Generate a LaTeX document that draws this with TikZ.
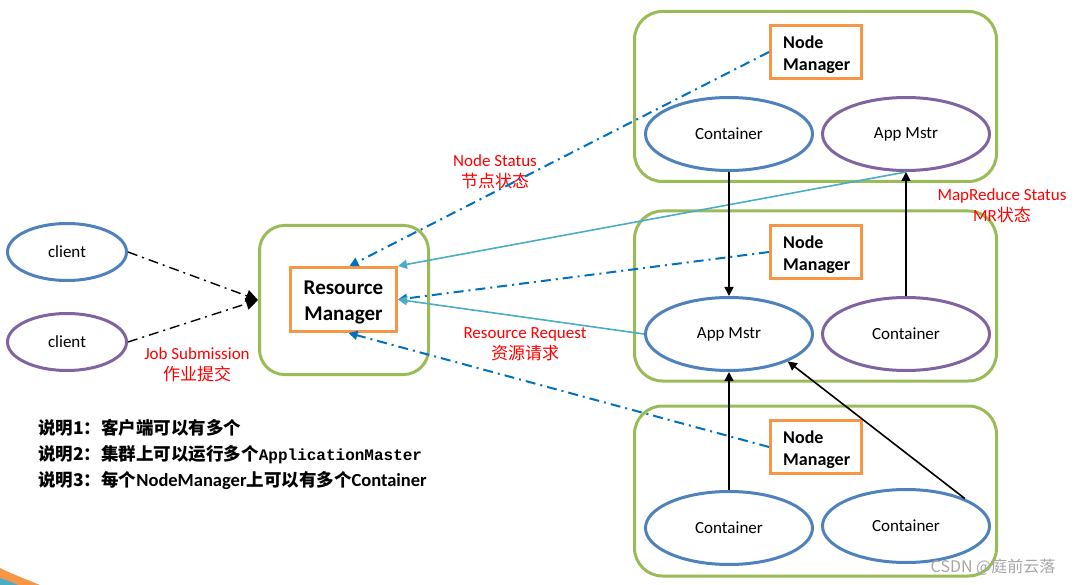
\documentclass[tikz,border=0pt]{standalone}
\usepackage{fontspec}
\setmainfont{Carlito}
\newfontfamily\cjk{Noto Sans CJK SC}
\newfontfamily\monob{Liberation Mono}
\usetikzlibrary{shapes.geometric,arrows.meta}
\definecolor{eblue}{HTML}{4F81BD}
\definecolor{epurple}{HTML}{8064A2}
\definecolor{egreen}{HTML}{9BBB59}
\definecolor{eorange}{HTML}{F79646}
\definecolor{dblue}{HTML}{0070C0}
\definecolor{tealc}{HTML}{4BACC6}
\begin{document}
\begin{tikzpicture}[x=1pt,y=-1pt,
  ell/.style={ellipse, draw, line width=3pt, minimum width=167pt, minimum height=73pt, inner sep=0pt, font=\fontsize{17}{20}\selectfont},
  cli/.style={ellipse, draw, line width=3pt, minimum width=119pt, minimum height=57pt, inner sep=0pt, font=\fontsize{17}{20}\selectfont},
  gbox/.style={draw=egreen, line width=3pt, rounded corners=28pt, minimum width=362pt, minimum height=170pt, inner sep=0pt},
  nmbox/.style={draw=eorange, line width=3pt, minimum width=91pt, minimum height=53pt, inner sep=0pt},
  nmtxt/.style={anchor=west, align=left, inner sep=0pt, font=\fontsize{18}{22}\selectfont\bfseries},
  lbl/.style={text=red, align=center, font=\fontsize{17}{21}\selectfont},
  dd/.style={draw=dblue, line width=2pt, dash pattern=on 10pt off 5pt on 2pt off 5pt, -{Triangle[length=9pt,width=9pt]}},
  tl/.style={draw=tealc, line width=1.6pt, -{Triangle[length=9pt,width=9pt]}},
  bl/.style={draw=black, line width=1.6pt, -{Triangle[length=9pt,width=9pt]}},
  jd/.style={draw=black, line width=1.4pt, dash pattern=on 10pt off 5pt on 2pt off 5pt, -{Triangle[length=12pt,width=12pt]}},
  note/.style={anchor=west, inner sep=0pt, font=\fontsize{17.5}{19}\selectfont}
]
\useasboundingbox (0,0) rectangle (1076,585);

% bottom-left decoration
\fill[eorange] (0,568) .. controls (12,574) and (28,580) .. (40,585) -- (0,585) -- cycle;
\fill[tealc] (0,578) .. controls (6,580) and (12,582) .. (18,585) -- (0,585) -- cycle;

% clients
\node[cli, draw=eblue] (c1) at (67,252) {client};
\node[cli, draw=epurple] (c2) at (67,342) {client};

% Resource manager
\node[gbox, minimum width=169pt, minimum height=149pt, rounded corners=25pt] (rmg) at (344,300) {};
\node[draw=eorange, line width=3pt, minimum width=106pt, minimum height=64pt, inner sep=0pt] (rm) at (343.5,299.5) {};
\node[align=center, inner sep=0pt, font=\fontsize{21}{26}\selectfont\bfseries] (rmt) at ([yshift=-3pt]rm.center) {Resource\\Manager};

% node groups
\node[gbox] (g1) at (815.5,96.5) {};
\node[gbox] (g2) at (815.5,296) {};
\node[gbox] (g3) at (815.5,491) {};

\node[nmbox] (nm1) at (816,52) {};
\node[nmbox] (nm2) at (816,252) {};
\node[nmbox] (nm3) at (816,447) {};
\node[nmtxt] (nm1t) at ([xshift=14pt,yshift=-3pt]nm1.west) {Node\\Manager};
\node[nmtxt] (nm2t) at ([xshift=14pt,yshift=-3pt]nm2.west) {Node\\Manager};
\node[nmtxt] (nm3t) at ([xshift=14pt,yshift=-3pt]nm3.west) {Node\\Manager};

\node[ell, draw=eblue] (ct1) at (729,134) {Container};
\node[ell, draw=epurple] (am1) at (906,134) {App Mstr};
\node[ell, draw=eblue] (am2) at (729,334) {App Mstr};
\node[ell, draw=epurple] (ct2) at (906,334) {Container};
\node[ell, draw=eblue] (ct3) at (729,528) {Container};
\node[ell, draw=eblue] (ct4) at (906,526) {Container};

% labels
\node[lbl] (ljs) at (197,365) {Job Submission\\{\cjk 作业提交}};
\node[lbl] (lns) at (495,172) {Node Status\\{\cjk 节点状态}};
\node[lbl] (lrr) at (525,344) {Resource Request\\{\cjk 资源请求}};
\node[lbl] (lmr) at (1002,206) {MapReduce Status\\MR{\cjk 状态}};

% connectors
\draw[jd] (c1.east) -- (rmg.west);
\draw[jd] (c2.east) -- (rmg.west);

\draw[dd] (nm1.west) -- ([xshift=6pt]rm.north);
\draw[dd] (nm2.west) -- (rm.east);
\draw[dd] (nm3.west) -- ([xshift=5pt]rm.south);

\draw[tl] (am1.south) -- (rm.north east);
\draw[tl] (am2.west) -- (rm.east);

\draw[bl] (ct1.south) -- (am2.north);
\draw[bl] (ct2.north) -- (am1.south);
\draw[bl] (ct3.north) -- (am2.south);
\draw[bl] (ct4.25) -- (am2.-25);

% notes
\node[note] (n1) at (38,428) {\cjk\bfseries 说明1：客户端可以有多个};
\node[note] (n2) at (38,455) {{\cjk\bfseries 说明2：集群上可以运行多个}{\monob\bfseries\fontsize{16}{18}\selectfont ApplicationMaster}};
\node[note] (n3) at (38,481) {{\cjk\bfseries 说明3：每个}{\bfseries\fontsize{18.5}{19}\selectfont NodeManager}{\cjk\bfseries 上可以有多个}{\bfseries\fontsize{18.5}{19}\selectfont Container}};

% watermark
\node[text=black!35, font=\fontsize{16}{18}\selectfont\cjk, inner sep=0pt] (wm) at (993,567) {CSDN @庭前云落};
\end{tikzpicture}
\end{document}
